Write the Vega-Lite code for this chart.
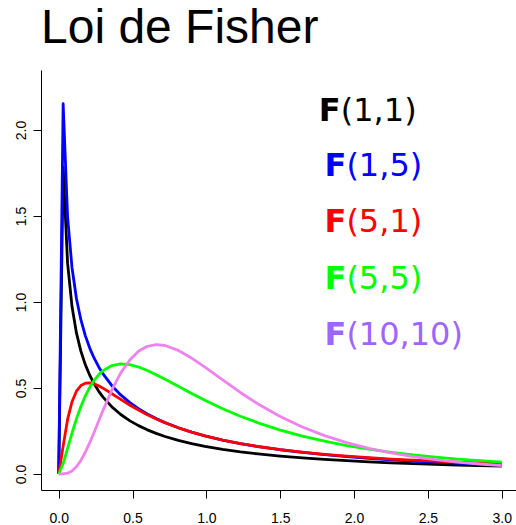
{
  "$schema": "https://vega.github.io/schema/vega-lite/v6.json",
  "autosize": {"type": "none"},
  "padding": {"left": 41, "top": 70, "right": 0, "bottom": 35},
  "width": 475,
  "height": 420,
  "background": "white",
  "title": {"text": "Loi de Fisher", "font": "Liberation Sans", "fontSize": 48, "fontWeight": "normal", "color": "black", "anchor": "start", "frame": "group", "offset": 17},
  "config": {
    "view": {"stroke": null},
    "axis": {"grid": false, "domainColor": "black", "domainWidth": 1, "tickColor": "black", "tickWidth": 1, "tickSize": 8, "labelFont": "Liberation Sans", "labelFontSize": 14, "labelColor": "black", "title": null}
  },
  "layer": [
    {
      "data": {"values": [
        {"x":0,"f11":0,"f15":0,"f51":0,"f55":0,"f1010":0},
        {"x":0.03,"f11":1.7842,"f15":2.153,"f51":0.1621,"f55":0.0609,"f1010":0.0004},
        {"x":0.06,"f11":1.2259,"f15":1.4952,"f51":0.3174,"f55":0.1492,"f1010":0.0046},
        {"x":0.09,"f11":0.9734,"f15":1.1994,"f51":0.4202,"f55":0.2383,"f1010":0.0175},
        {"x":0.12,"f11":0.8204,"f15":1.0206,"f51":0.4816,"f55":0.3204,"f1010":0.0421},
        {"x":0.15,"f11":0.7147,"f15":0.897,"f51":0.5144,"f55":0.3923,"f1010":0.0788},
        {"x":0.18,"f11":0.6358,"f15":0.8047,"f51":0.5283,"f55":0.4534,"f1010":0.1264},
        {"x":0.21,"f11":0.5741,"f15":0.7321,"f51":0.53,"f55":0.5039,"f1010":0.1821},
        {"x":0.24,"f11":0.524,"f15":0.6732,"f51":0.5239,"f55":0.5447,"f1010":0.2432},
        {"x":0.27,"f11":0.4823,"f15":0.6239,"f51":0.513,"f55":0.5769,"f1010":0.3069},
        {"x":0.3,"f11":0.447,"f15":0.5819,"f51":0.499,"f55":0.6011,"f1010":0.3702},
        {"x":0.36,"f11":0.3901,"f15":0.5136,"f51":0.4669,"f55":0.6305,"f1010":0.4888},
        {"x":0.42,"f11":0.3459,"f15":0.4598,"f51":0.4335,"f55":0.6403,"f1010":0.5881},
        {"x":0.48,"f11":0.3104,"f15":0.4162,"f51":0.4015,"f55":0.6354,"f1010":0.6618},
        {"x":0.54,"f11":0.2813,"f15":0.3798,"f51":0.3717,"f55":0.6222,"f1010":0.714},
        {"x":0.6,"f11":0.2568,"f15":0.3488,"f51":0.3446,"f55":0.602,"f1010":0.7426},
        {"x":0.66,"f11":0.236,"f15":0.3221,"f51":0.32,"f55":0.5777,"f1010":0.7524},
        {"x":0.72,"f11":0.2181,"f15":0.2988,"f51":0.2978,"f55":0.5512,"f1010":0.7471},
        {"x":0.81,"f11":0.1954,"f15":0.2688,"f51":0.2686,"f55":0.5097,"f1010":0.7186},
        {"x":0.9,"f11":0.1766,"f15":0.2435,"f51":0.2435,"f55":0.4683,"f1010":0.6742},
        {"x":0.99,"f11":0.1608,"f15":0.2219,"f51":0.2219,"f55":0.4287,"f1010":0.6214},
        {"x":1.11,"f11":0.1432,"f15":0.1974,"f51":0.1975,"f55":0.3798,"f1010":0.5468},
        {"x":1.23,"f11":0.1287,"f15":0.1769,"f51":0.1771,"f55":0.336,"f1010":0.4741},
        {"x":1.35,"f11":0.1166,"f15":0.1595,"f51":0.1599,"f55":0.2973,"f1010":0.4074},
        {"x":1.5,"f11":0.104,"f15":0.1411,"f51":0.1419,"f55":0.2555,"f1010":0.3344},
        {"x":1.65,"f11":0.0935,"f15":0.1256,"f51":0.1271,"f55":0.2203,"f1010":0.2734},
        {"x":1.8,"f11":0.0847,"f15":0.1125,"f51":0.1146,"f55":0.1906,"f1010":0.2233},
        {"x":1.95,"f11":0.0773,"f15":0.1012,"f51":0.104,"f55":0.1655,"f1010":0.1825},
        {"x":2.1,"f11":0.0709,"f15":0.0915,"f51":0.0949,"f55":0.1444,"f1010":0.1495},
        {"x":2.25,"f11":0.0653,"f15":0.083,"f51":0.0871,"f55":0.1264,"f1010":0.1228},
        {"x":2.4,"f11":0.0604,"f15":0.0756,"f51":0.0803,"f55":0.1111,"f1010":0.1013},
        {"x":2.55,"f11":0.0562,"f15":0.069,"f51":0.0743,"f55":0.0981,"f1010":0.0838},
        {"x":2.7,"f11":0.0524,"f15":0.0633,"f51":0.0691,"f55":0.0869,"f1010":0.0696},
        {"x":2.85,"f11":0.049,"f15":0.0581,"f51":0.0644,"f55":0.0773,"f1010":0.0581},
        {"x":3.0,"f11":0.0459,"f15":0.0535,"f51":0.0602,"f55":0.0689,"f1010":0.0487}
      ]},
      "transform": [{"fold": ["f11", "f15", "f51", "f55", "f1010"], "as": ["dist", "density"]}],
      "mark": {"type": "line", "strokeWidth": 2.8, "interpolate": "linear", "strokeJoin": "round"},
      "encoding": {
        "x": {"field": "x", "type": "quantitative", "scale": {"domain": [-0.12, 3.0966], "nice": false, "zero": false},
              "axis": {"values": [0, 0.5, 1, 1.5, 2, 2.5, 3], "format": ".1f", "labelBaseline": "alphabetic", "labelPadding": 24, "labelAlign": "center", "labelFlush": false}},
        "y": {"field": "density", "type": "quantitative", "scale": {"domain": [-0.093, 2.349], "nice": false, "zero": false},
              "axis": {"values": [0, 0.5, 1, 1.5, 2], "format": ".1f", "labelAngle": -90, "labelAlign": "center", "labelBaseline": "alphabetic", "labelPadding": 8, "labelFlush": false}},
        "color": {"field": "dist", "type": "nominal", "legend": null,
                  "scale": {"domain": ["f11", "f15", "f51", "f55", "f1010"], "range": ["#000000", "#0000FF", "#FF0000", "#00FF00", "#EE82EE"]}},
        "order": {"field": "x", "type": "quantitative"}
      }
    },
    {
      "mark": {"type": "rule", "color": "black", "strokeWidth": 1},
      "encoding": {
        "x": {"datum": -0.12},
        "x2": {"datum": 3.0966},
        "y": {"datum": 2.349}
      }
    },
    {
      "data": {"name": "labels", "values": [
        {"dist": "f11", "lx": 1.761, "ly": 2.054, "lab": "(1,1)"},
        {"dist": "f15", "lx": 1.799, "ly": 1.733, "lab": "(1,5)"},
        {"dist": "f51", "lx": 1.799, "ly": 1.407, "lab": "(5,1)"},
        {"dist": "f55", "lx": 1.799, "ly": 1.076, "lab": "(5,5)"},
        {"dist": "f1010", "lx": 1.799, "ly": 0.75, "lab": "(10,10)"}
      ]},
      "layer": [
        {
          "mark": {"type": "text", "font": "DejaVu Sans", "fontSize": 32, "fontWeight": "bold", "align": "left", "baseline": "alphabetic"},
          "encoding": {
            "x": {"field": "lx", "type": "quantitative"},
            "y": {"field": "ly", "type": "quantitative"},
            "text": {"value": "F"},
            "color": {"field": "dist", "type": "nominal", "legend": null,
                      "scale": {"domain": ["f11", "f15", "f51", "f55", "f1010"], "range": ["#000000", "#0000FF", "#FF0000", "#00FF00", "#9D66FF"]}}
          }
        },
        {
          "mark": {"type": "text", "font": "DejaVu Sans", "fontSize": 32, "fontWeight": "normal", "align": "left", "baseline": "alphabetic", "dx": 22},
          "encoding": {
            "x": {"field": "lx", "type": "quantitative"},
            "y": {"field": "ly", "type": "quantitative"},
            "text": {"field": "lab"},
            "color": {"field": "dist", "type": "nominal", "legend": null,
                      "scale": {"domain": ["f11", "f15", "f51", "f55", "f1010"], "range": ["#000000", "#0000FF", "#FF0000", "#00FF00", "#9D66FF"]}}
          }
        }
      ],
      "resolve": {"scale": {"color": "shared"}}
    }
  ],
  "resolve": {"scale": {"color": "independent"}}
}
